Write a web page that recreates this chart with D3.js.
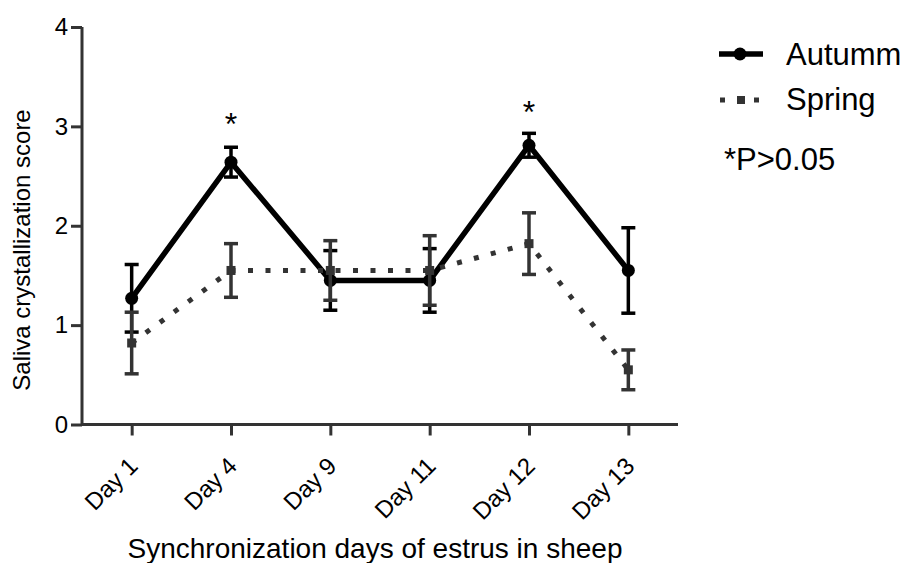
<!DOCTYPE html>
<html>
<head>
<meta charset="utf-8">
<script src="https://d3js.org/d3.v7.min.js"></script>
<style>
  body { margin: 0; background: #fff; }
  text { font-family: "Liberation Sans", Arial, sans-serif; }
</style>
</head>
<body>
<svg width="905" height="563"></svg>
<script>
  // data
  const days = ["Day 1", "Day 4", "Day 9", "Day 11", "Day 12", "Day 13"];
  const autumnMean = [1.27, 2.64, 1.45, 1.45, 2.81, 1.55];
  const autumnSem  = [0.34, 0.15, 0.30, 0.32, 0.12, 0.43];
  const springMean = [0.82, 1.55, 1.55, 1.55, 1.82, 0.55];
  const springSem  = [0.31, 0.27, 0.30, 0.35, 0.31, 0.20];
  const yTicks = [0, 1, 2, 3, 4];
  // significance marks (day, height of the star baseline)
  const starDays = ["Day 4", "Day 12"];
  const starLevels = [2.91, 3.03];

  const svg = d3.select("svg");
  const axisColor = "#333";
  const springColor = "#333";

  const x = d3.scalePoint().domain(days).range([82, 678]).padding(0.5);
  const y = d3.scaleLinear().domain([0, 4]).range([424.5, 27]);

  // y axis
  const yAxis = svg.append("g")
    .attr("transform", "translate(82,0)")
    .call(d3.axisLeft(y).tickValues(yTicks).tickSize(11).tickPadding(3).tickFormat(d3.format("d")));
  yAxis.select(".domain").attr("stroke", axisColor).attr("stroke-width", 3)
    .attr("d", `M0,${y(4)}V${y(0)}`);
  yAxis.selectAll(".tick line").attr("stroke", axisColor).attr("stroke-width", 3);
  yAxis.selectAll(".tick text").attr("font-size", 24).attr("fill", "#000")
    .attr("font-family", "Liberation Sans, Arial, sans-serif");

  // x axis
  const xAxis = svg.append("g")
    .attr("transform", `translate(0,${y(0)})`)
    .call(d3.axisBottom(x).tickSize(11).tickSizeOuter(0));
  xAxis.select(".domain").attr("stroke", axisColor).attr("stroke-width", 3)
    .attr("d", "M82,0H678");
  xAxis.selectAll(".tick line").attr("stroke", axisColor).attr("stroke-width", 3);
  xAxis.selectAll(".tick text")
    .attr("font-size", 24).attr("fill", "#000")
    .attr("font-family", "Liberation Sans, Arial, sans-serif")
    .attr("text-anchor", "end")
    .attr("y", 0).attr("dy", 0)
    .attr("transform", "translate(7,43) rotate(-45)");

  // axis titles
  svg.append("text")
    .attr("x", 375).attr("y", 558)
    .attr("text-anchor", "middle").attr("font-size", 28)
    .text("Synchronization days of estrus in sheep");
  svg.append("text")
    .attr("transform", "translate(30,250) rotate(-90)")
    .attr("text-anchor", "middle").attr("font-size", 24)
    .text("Saliva crystallization score");

  const capW = 7;
  function errorBars(mean, sem, color, width) {
    const g = svg.append("g").attr("stroke", color).attr("stroke-width", width);
    days.forEach((d, i) => {
      const cx = x(d), top = y(mean[i] + sem[i]), bot = y(mean[i] - sem[i]);
      g.append("line").attr("x1", cx).attr("x2", cx).attr("y1", top).attr("y2", bot);
      g.append("line").attr("x1", cx - capW).attr("x2", cx + capW).attr("y1", top).attr("y2", top);
      g.append("line").attr("x1", cx - capW).attr("x2", cx + capW).attr("y1", bot).attr("y2", bot);
    });
  }

  const line = d3.line().x((v, i) => x(days[i])).y(v => y(v));

  // Autumn
  svg.append("path").datum(autumnMean)
    .attr("d", line).attr("fill", "none")
    .attr("stroke", "#000").attr("stroke-width", 5.5).attr("stroke-linejoin", "miter");
  errorBars(autumnMean, autumnSem, "#000", 3.5);
  svg.append("g").selectAll("circle").data(autumnMean).join("circle")
    .attr("cx", (v, i) => x(days[i])).attr("cy", v => y(v)).attr("r", 6.5).attr("fill", "#000");

  // Spring
  svg.append("path").datum(springMean)
    .attr("d", line).attr("fill", "none")
    .attr("stroke", springColor).attr("stroke-width", 5)
    .attr("stroke-dasharray", "5,12.5");
  errorBars(springMean, springSem, springColor, 3.5);
  svg.append("g").selectAll("rect").data(springMean).join("rect")
    .attr("x", (v, i) => x(days[i]) - 4.5).attr("y", v => y(v) - 4.5)
    .attr("width", 9).attr("height", 9).attr("fill", springColor);

  // stars
  svg.append("g").selectAll("text").data(starDays).join("text")
    .attr("x", d => x(d)).attr("y", (d, i) => y(starLevels[i]))
    .attr("text-anchor", "middle").attr("font-size", 32)
    .text("*");

  // legend
  const lg = svg.append("g");
  lg.append("line").attr("x1", 719).attr("x2", 763).attr("y1", 54).attr("y2", 54)
    .attr("stroke", "#000").attr("stroke-width", 5.5);
  lg.append("circle").attr("cx", 740).attr("cy", 54).attr("r", 6.5).attr("fill", "#000");
  lg.append("text").attr("x", 786).attr("y", 65).attr("font-size", 31).text("Autumm");

  lg.append("line").attr("x1", 720).attr("x2", 763).attr("y1", 100).attr("y2", 100)
    .attr("stroke", springColor).attr("stroke-width", 5).attr("stroke-dasharray", "5,12");
  lg.append("rect").attr("x", 737).attr("y", 96).attr("width", 8).attr("height", 8).attr("fill", springColor);
  lg.append("text").attr("x", 786).attr("y", 110).attr("font-size", 31).text("Spring");

  lg.append("text").attr("x", 724).attr("y", 170).attr("font-size", 31).text("*P>0.05");
</script>
</body>
</html>
